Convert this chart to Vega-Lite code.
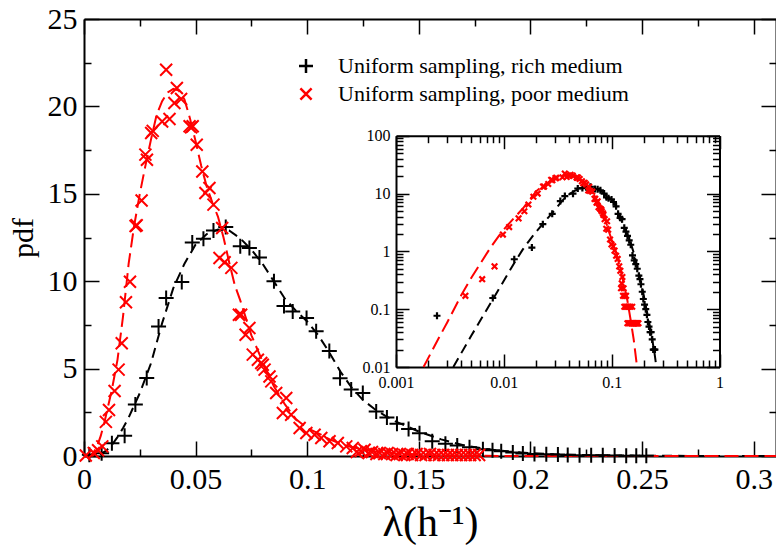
{
  "$schema": "https://vega.github.io/schema/vega-lite/v6.json",
  "width": 692,
  "height": 437,
  "autosize": {"type": "none"},
  "padding": {"left": 84, "top": 19, "right": 0, "bottom": 94},
  "background": "white",
  "config": {
    "view": {"stroke": null},
    "font": "Liberation Serif",
    "axis": {
      "grid": false,
      "domainColor": "black",
      "domainWidth": 2,
      "tickColor": "black",
      "tickWidth": 1.5,
      "labelColor": "black",
      "titleColor": "black",
      "labelFont": "Liberation Serif",
      "titleFont": "Liberation Serif",
      "titleFontWeight": "normal",
      "labelFlush": false,
      "labelOverlap": false
    }
  },
  "datasets": {
    "richCurve": [
      {"x":0,"y":0},{"x":0.0034,"y":0.01},{"x":0.005,"y":0.035},{"x":0.0075,"y":0.125},{"x":0.01,"y":0.31},{"x":0.0125,"y":0.63},{"x":0.015,"y":1.08},{"x":0.0175,"y":1.6},{"x":0.02,"y":2.2},{"x":0.025,"y":3.6},{"x":0.03,"y":5.3},{"x":0.035,"y":7.6},{"x":0.04,"y":9.6},{"x":0.045,"y":11.0},{"x":0.05,"y":12.1},{"x":0.055,"y":12.7},{"x":0.06,"y":12.95},{"x":0.065,"y":12.9},{"x":0.07,"y":12.45},{"x":0.075,"y":11.8},{"x":0.08,"y":11.0},{"x":0.085,"y":10.0},{"x":0.09,"y":9.0},{"x":0.095,"y":8.3},{"x":0.1,"y":7.7},{"x":0.105,"y":6.9},{"x":0.11,"y":5.9},{"x":0.115,"y":4.8},{"x":0.12,"y":3.9},{"x":0.125,"y":3.2},{"x":0.13,"y":2.7},{"x":0.135,"y":2.3},{"x":0.14,"y":1.95},{"x":0.15,"y":1.4},{"x":0.16,"y":0.95},{"x":0.17,"y":0.62},{"x":0.18,"y":0.4},{"x":0.19,"y":0.26},{"x":0.2,"y":0.16},{"x":0.21,"y":0.1},{"x":0.22,"y":0.066},{"x":0.23,"y":0.042},{"x":0.24,"y":0.027},{"x":0.25,"y":0.017},{"x":0.26,"y":0.01},{"x":0.28,"y":0.004},{"x":0.31,"y":0.001}
    ],
    "poorCurve": [
      {"x":0,"y":0},{"x":0.0018,"y":0.01},{"x":0.0025,"y":0.032},{"x":0.003,"y":0.06},{"x":0.004,"y":0.17},{"x":0.005,"y":0.35},{"x":0.006,"y":0.6},{"x":0.0075,"y":1.15},{"x":0.009,"y":1.85},{"x":0.01,"y":2.4},{"x":0.0125,"y":3.8},{"x":0.015,"y":5.5},{"x":0.0175,"y":8.0},{"x":0.02,"y":11.0},{"x":0.0225,"y":13.2},{"x":0.025,"y":15.0},{"x":0.0275,"y":16.6},{"x":0.03,"y":18.1},{"x":0.0325,"y":19.5},{"x":0.035,"y":20.3},{"x":0.0375,"y":20.8},{"x":0.04,"y":21.0},{"x":0.0425,"y":20.9},{"x":0.045,"y":20.4},{"x":0.0475,"y":19.3},{"x":0.05,"y":18.0},{"x":0.0525,"y":16.6},{"x":0.055,"y":15.4},{"x":0.0575,"y":14.5},{"x":0.06,"y":13.7},{"x":0.0625,"y":12.5},{"x":0.065,"y":11.1},{"x":0.0675,"y":9.8},{"x":0.07,"y":8.9},{"x":0.0725,"y":7.9},{"x":0.075,"y":6.9},{"x":0.08,"y":5.4},{"x":0.085,"y":4.0},{"x":0.09,"y":2.95},{"x":0.095,"y":2.1},{"x":0.1,"y":1.6},{"x":0.105,"y":1.3},{"x":0.11,"y":0.95},{"x":0.115,"y":0.7},{"x":0.12,"y":0.5},{"x":0.13,"y":0.27},{"x":0.14,"y":0.14},{"x":0.15,"y":0.065},{"x":0.16,"y":0.03},{"x":0.17,"y":0.012},{"x":0.172,"y":0.01},{"x":0.2,"y":0.001},{"x":0.31,"y":0}
    ],
    "richPts": [
      {"x":0.0024,"y":0.077},{"x":0.0079,"y":0.156},{"x":0.0125,"y":0.73},{"x":0.0182,"y":1.16},{"x":0.023,"y":2.95},{"x":0.0281,"y":4.46},{"x":0.0334,"y":7.41},{"x":0.0368,"y":9.04},{"x":0.0438,"y":9.95},{"x":0.0485,"y":12.22},{"x":0.0535,"y":12.43},{"x":0.058,"y":12.9},{"x":0.0635,"y":13.1},{"x":0.07,"y":12.0},{"x":0.0741,"y":11.9},{"x":0.0786,"y":11.36},{"x":0.0851,"y":9.99},{"x":0.0896,"y":8.58},{"x":0.0935,"y":8.27},{"x":0.0997,"y":7.89},{"x":0.104,"y":7.13},{"x":0.1099,"y":6.0},{"x":0.1147,"y":4.45},{"x":0.1197,"y":3.8},{"x":0.1249,"y":3.6},{"x":0.1309,"y":2.55},{"x":0.1357,"y":2.2},{"x":0.1402,"y":1.85},{"x":0.1454,"y":1.55},{"x":0.1503,"y":1.3},{"x":0.156,"y":0.85},{"x":0.1619,"y":0.7},{"x":0.1672,"y":0.6},{"x":0.1727,"y":0.5},{"x":0.1787,"y":0.38},{"x":0.183,"y":0.33},{"x":0.1869,"y":0.27},{"x":0.1921,"y":0.2},{"x":0.1966,"y":0.15},{"x":0.2018,"y":0.12},{"x":0.2071,"y":0.1},{"x":0.2123,"y":0.08},{"x":0.2167,"y":0.06},{"x":0.222,"y":0.05},{"x":0.2272,"y":0.04},{"x":0.2324,"y":0.04},{"x":0.2377,"y":0.03},{"x":0.2429,"y":0.02},{"x":0.2474,"y":0.02},{"x":0.2519,"y":0.02}
    ],
    "poorPts": [
      {"x":0.0008,"y":0.03},{"x":0.0044,"y":0.17},{"x":0.0063,"y":0.33},{"x":0.0082,"y":0.55},{"x":0.0098,"y":1.95},{"x":0.0112,"y":2.63},{"x":0.0137,"y":3.72},{"x":0.0155,"y":4.94},{"x":0.0169,"y":6.45},{"x":0.0188,"y":8.8},{"x":0.0206,"y":9.97},{"x":0.0231,"y":13.16},{"x":0.0236,"y":13.2},{"x":0.0258,"y":14.62},{"x":0.0275,"y":17.24},{"x":0.0282,"y":16.95},{"x":0.0301,"y":18.48},{"x":0.0308,"y":18.6},{"x":0.035,"y":19.14},{"x":0.0368,"y":22.1},{"x":0.0383,"y":19.28},{"x":0.0405,"y":20.19},{"x":0.0416,"y":21.05},{"x":0.0435,"y":20.42},{"x":0.0473,"y":18.86},{"x":0.048,"y":18.8},{"x":0.0487,"y":18.86},{"x":0.0505,"y":17.81},{"x":0.053,"y":16.28},{"x":0.0544,"y":15.05},{"x":0.0562,"y":15.33},{"x":0.058,"y":14.38},{"x":0.0619,"y":13.04},{"x":0.0607,"y":11.33},{"x":0.063,"y":11.08},{"x":0.066,"y":10.76},{"x":0.0694,"y":8.08},{"x":0.0704,"y":8.08},{"x":0.0724,"y":6.94},{"x":0.0741,"y":7.32},{"x":0.0756,"y":5.8},{"x":0.0779,"y":5.51},{"x":0.0794,"y":5.32},{"x":0.0801,"y":5.22},{"x":0.0809,"y":4.94},{"x":0.0831,"y":4.55},{"x":0.0839,"y":4.27},{"x":0.0861,"y":3.6},{"x":0.0891,"y":2.46},{"x":0.0906,"y":3.32},{"x":0.0928,"y":2.36},{"x":0.0966,"y":1.6},{"x":0.0996,"y":1.32},{"x":0.1033,"y":1.22},{"x":0.1063,"y":1.03},{"x":0.11,"y":0.84},{"x":0.1137,"y":0.74},{"x":0.1175,"y":0.55},{"x":0.1204,"y":0.46},{"x":0.1222,"y":0.23},{"x":0.124,"y":0.28},{"x":0.1257,"y":0.36},{"x":0.1275,"y":0.17},{"x":0.129,"y":0.23},{"x":0.131,"y":0.11},{"x":0.1325,"y":0.17},{"x":0.1345,"y":0.11},{"x":0.136,"y":0.17},{"x":0.138,"y":0.11},{"x":0.14,"y":0.057},{"x":0.1415,"y":0.11},{"x":0.1435,"y":0.057},{"x":0.145,"y":0.11},{"x":0.147,"y":0.057},{"x":0.149,"y":0.11},{"x":0.151,"y":0.057},{"x":0.153,"y":0.057},{"x":0.155,"y":0.11},{"x":0.157,"y":0.057},{"x":0.159,"y":0.057},{"x":0.161,"y":0.057},{"x":0.163,"y":0.057},{"x":0.165,"y":0.057},{"x":0.167,"y":0.057},{"x":0.169,"y":0.057},{"x":0.171,"y":0.057},{"x":0.173,"y":0.057},{"x":0.175,"y":0.057},{"x":0.177,"y":0.057}
    ]
  },
  "layer": [
    {
      "data": {"name": "richCurve"},
      "mark": {"type": "line", "color": "black", "strokeWidth": 2, "strokeDash": [10, 6]},
      "encoding": {
        "x": {"field": "x", "type": "quantitative", "scale": {"domain": [0, 0.31], "nice": false, "zero": false},
          "axis": {"orient": "bottom", "values": [0, 0.05, 0.1, 0.15, 0.2, 0.25, 0.3], "format": "~g", "tickSize": -15, "labelPadding": 23, "labelFontSize": 30, "title": "λ(h⁻¹)", "titleFontSize": 42, "titlePadding": 8}},
        "y": {"field": "y", "type": "quantitative", "scale": {"domain": [0, 25], "nice": false},
          "axis": {"orient": "left", "values": [0, 5, 10, 15, 20, 25], "tickSize": -15, "labelPadding": 22, "labelFontSize": 30, "title": "pdf", "titleFontSize": 30, "titlePadding": 9}}
      }
    },
    {
      "data": {"name": "poorCurve"},
      "mark": {"type": "line", "color": "red", "strokeWidth": 2, "strokeDash": [14, 6]},
      "encoding": {
        "x": {"field": "x", "type": "quantitative", "scale": {"domain": [0, 0.31], "nice": false, "zero": false},
          "axis": {"orient": "top", "values": [0, 0.05, 0.1, 0.15, 0.2, 0.25, 0.3], "tickSize": -15, "labels": false, "title": null}},
        "y": {"field": "y", "type": "quantitative", "scale": {"domain": [0, 25], "nice": false},
          "axis": {"orient": "right", "values": [0, 5, 10, 15, 20, 25], "tickSize": -15, "labels": false, "title": null}}
      }
    },
    {
      "data": {"name": "richPts"},
      "transform": [{"calculate": "'Uniform sampling, rich medium'", "as": "series"}],
      "mark": {"type": "point", "filled": false, "size": 225, "strokeWidth": 2, "opacity": 1},
      "encoding": {
        "x": {"field": "x", "type": "quantitative", "scale": {"domain": [0, 0.31], "nice": false, "zero": false},
          "axis": {"orient": "bottom", "values": [0.025, 0.075, 0.125, 0.175, 0.225, 0.275], "tickSize": -7, "labels": false, "domain": false, "title": null}},
        "y": {"field": "y", "type": "quantitative", "scale": {"domain": [0, 25], "nice": false},
          "axis": {"orient": "left", "values": [2.5, 7.5, 12.5, 17.5, 22.5], "tickSize": -7, "labels": false, "domain": false, "title": null}},
        "color": {"field": "series", "type": "nominal",
          "scale": {"domain": ["Uniform sampling, rich medium", "Uniform sampling, poor medium"], "range": ["black", "red"]},
          "legend": {"orient": "none", "legendX": 211, "legendY": 36, "title": null, "labelFont": "Liberation Serif", "labelFontSize": 22, "labelColor": "black", "labelLimit": 0, "symbolSize": 196, "symbolStrokeWidth": 2.5, "labelOffset": 21, "rowPadding": 5, "padding": 0}},
        "shape": {"field": "series", "type": "nominal",
          "scale": {"domain": ["Uniform sampling, rich medium", "Uniform sampling, poor medium"], "range": ["M-1,0H1M0,-1V1", "M-0.8,-0.8L0.8,0.8M-0.8,0.8L0.8,-0.8"]},
          "legend": {"orient": "none", "legendX": 211, "legendY": 36, "title": null, "labelFont": "Liberation Serif", "labelFontSize": 22, "labelColor": "black", "labelLimit": 0, "symbolSize": 196, "symbolStrokeWidth": 2.5, "labelOffset": 21, "rowPadding": 5, "padding": 0}}
      }
    },
    {
      "data": {"name": "poorPts"},
      "transform": [{"calculate": "'Uniform sampling, poor medium'", "as": "series"}],
      "mark": {"type": "point", "filled": false, "size": 225, "strokeWidth": 2, "opacity": 1},
      "encoding": {
        "x": {"field": "x", "type": "quantitative", "scale": {"domain": [0, 0.31], "nice": false, "zero": false},
          "axis": {"orient": "top", "values": [0.025, 0.075, 0.125, 0.175, 0.225, 0.275], "tickSize": -7, "labels": false, "domain": false, "title": null}},
        "y": {"field": "y", "type": "quantitative", "scale": {"domain": [0, 25], "nice": false},
          "axis": {"orient": "right", "values": [2.5, 7.5, 12.5, 17.5, 22.5], "tickSize": -7, "labels": false, "domain": false, "title": null}},
        "color": {"field": "series", "type": "nominal"},
        "shape": {"field": "series", "type": "nominal"}
      }
    },
    {
      "data": {"name": "richCurve"},
      "transform": [{"filter": "datum.y >= 0.01 && datum.x >= 0.001"}],
      "mark": {"type": "line", "color": "black", "strokeWidth": 2, "strokeDash": [10, 6]},
      "encoding": {
        "x": {"field": "x", "type": "quantitative", "scale": {"type": "log", "domain": [0.001, 1], "range": [312, 635.5], "nice": false},
          "axis": {"orient": "bottom", "offset": -89, "values": [0.001, 0.01, 0.1, 1], "format": "~g", "tickSize": -13, "labelPadding": 20, "labelFontSize": 16, "title": null}},
        "y": {"field": "y", "type": "quantitative", "scale": {"type": "log", "domain": [0.01, 100], "range": [348, 116.7], "nice": false},
          "axis": {"orient": "left", "offset": -312, "values": [0.01, 0.1, 1, 10, 100], "format": "~g", "tickSize": -13, "labelPadding": 19, "labelFontSize": 16, "title": null}}
      }
    },
    {
      "data": {"name": "poorCurve"},
      "transform": [{"filter": "datum.y >= 0.01 && datum.x >= 0.001"}],
      "mark": {"type": "line", "color": "red", "strokeWidth": 2, "strokeDash": [14, 6]},
      "encoding": {
        "x": {"field": "x", "type": "quantitative", "scale": {"type": "log", "domain": [0.001, 1], "range": [312, 635.5], "nice": false},
          "axis": {"orient": "top", "offset": -116.7, "values": [0.001, 0.01, 0.1, 1], "tickSize": -13, "labels": false, "title": null}},
        "y": {"field": "y", "type": "quantitative", "scale": {"type": "log", "domain": [0.01, 100], "range": [348, 116.7], "nice": false},
          "axis": {"orient": "right", "offset": -56.5, "values": [0.01, 0.1, 1, 10, 100], "tickSize": -13, "labels": false, "title": null}}
      }
    },
    {
      "data": {"name": "richPts"},
      "transform": [{"filter": "datum.y >= 0.01 && datum.x >= 0.001"}, {"calculate": "'Uniform sampling, rich medium'", "as": "series"}],
      "mark": {"type": "point", "filled": false, "size": 49, "strokeWidth": 2.2, "opacity": 1},
      "encoding": {
        "x": {"field": "x", "type": "quantitative", "scale": {"type": "log", "domain": [0.001, 1], "range": [312, 635.5], "nice": false},
          "axis": {"orient": "bottom", "offset": -89, "values": [0.002,0.003,0.004,0.005,0.006,0.007,0.008,0.009,0.02,0.03,0.04,0.05,0.06,0.07,0.08,0.09,0.2,0.3,0.4,0.5,0.6,0.7,0.8,0.9], "tickSize": -7, "labels": false, "domain": false, "title": null}},
        "y": {"field": "y", "type": "quantitative", "scale": {"type": "log", "domain": [0.01, 100], "range": [348, 116.7], "nice": false},
          "axis": {"orient": "left", "offset": -312, "values": [0.02,0.03,0.04,0.05,0.06,0.07,0.08,0.09,0.2,0.3,0.4,0.5,0.6,0.7,0.8,0.9,2,3,4,5,6,7,8,9,20,30,40,50,60,70,80,90], "tickSize": -7, "labels": false, "domain": false, "title": null}},
        "color": {"field": "series", "type": "nominal"},
        "shape": {"field": "series", "type": "nominal"}
      }
    },
    {
      "data": {"name": "poorPts"},
      "transform": [{"filter": "datum.y >= 0.01 && datum.x >= 0.001"}, {"calculate": "'Uniform sampling, poor medium'", "as": "series"}],
      "mark": {"type": "point", "filled": false, "size": 49, "strokeWidth": 2.2, "opacity": 1},
      "encoding": {
        "x": {"field": "x", "type": "quantitative", "scale": {"type": "log", "domain": [0.001, 1], "range": [312, 635.5], "nice": false},
          "axis": {"orient": "top", "offset": -116.7, "values": [0.002,0.003,0.004,0.005,0.006,0.007,0.008,0.009,0.02,0.03,0.04,0.05,0.06,0.07,0.08,0.09,0.2,0.3,0.4,0.5,0.6,0.7,0.8,0.9], "tickSize": -7, "labels": false, "domain": false, "title": null}},
        "y": {"field": "y", "type": "quantitative", "scale": {"type": "log", "domain": [0.01, 100], "range": [348, 116.7], "nice": false},
          "axis": {"orient": "right", "offset": -56.5, "values": [0.02,0.03,0.04,0.05,0.06,0.07,0.08,0.09,0.2,0.3,0.4,0.5,0.6,0.7,0.8,0.9,2,3,4,5,6,7,8,9,20,30,40,50,60,70,80,90], "tickSize": -7, "labels": false, "domain": false, "title": null}},
        "color": {"field": "series", "type": "nominal"},
        "shape": {"field": "series", "type": "nominal"}
      }
    }
  ],
  "resolve": {"scale": {"x": "independent", "y": "independent"}}
}
